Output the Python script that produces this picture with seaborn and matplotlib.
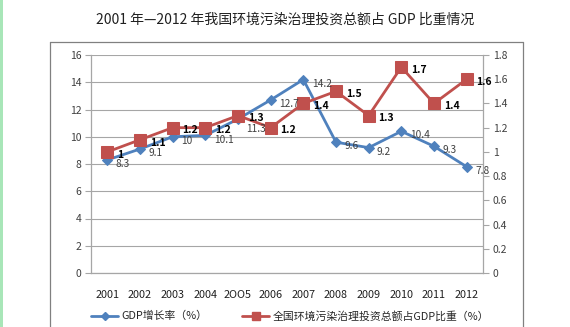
import matplotlib
matplotlib.use("Agg")
import matplotlib.pyplot as plt
import seaborn as sns
import pandas as pd
from matplotlib.patches import Rectangle
from matplotlib.lines import Line2D

years = ["2001", "2002", "2003", "2004", "2OO5", "2006", "2007", "2008", "2009", "2010", "2011", "2012"]
gdp_growth = [8.3, 9.1, 10, 10.1, 11.3, 12.7, 14.2, 9.6, 9.2, 10.4, 9.3, 7.8]
invest_share = [1, 1.1, 1.2, 1.2, 1.3, 1.2, 1.4, 1.5, 1.3, 1.7, 1.4, 1.6]
gdp_labels = ["8.3", "9.1", "10", "10.1", "11.3", "12.7", "14.2", "9.6", "9.2", "10.4", "9.3", "7.8"]
inv_labels = ["1", "1.1", "1.2", "1.2", "1.3", "1.2", "1.4", "1.5", "1.3", "1.7", "1.4", "1.6"]
left_ticks = [0, 2, 4, 6, 8, 10, 12, 14, 16]
right_ticks = [0, 0.2, 0.4, 0.6, 0.8, 1, 1.2, 1.4, 1.6, 1.8]
right_tick_labels = ["0", "0.2", "0.4", "0.6", "0.8", "1", "1.2", "1.4", "1.6", "1.8"]
title = "2001 年—2012 年我国环境污染治理投资总额占 GDP 比重情况"
legend_labels = ["GDP增长率（%）", "全国环境污染治理投资总额占GDP比重（%）"]

sns.set_style("white")
plt.rcParams["font.family"] = ["Noto Sans CJK SC", "DejaVu Sans"]

BLUE = "#4F81BD"
RED = "#C0504D"
GRID = "#A6A6A6"
TXT = "#404040"

df = pd.DataFrame({"x": list(range(len(years))), "gdp": gdp_growth, "inv": invest_share})

fig = plt.figure(figsize=(5.7, 3.27), dpi=100)
fig.patch.set_facecolor("white")
# light green strip at left edge
fig.patches.append(Rectangle((0, 0), 2.5 / 570, 1, transform=fig.transFigure,
                             facecolor="#A8E6B8", edgecolor="none", zorder=0))
# chart frame
fig.add_artist(Line2D([50 / 570, 50 / 570], [0, 1 - 42 / 327], transform=fig.transFigure, color="#808080", lw=0.9))
fig.add_artist(Line2D([523 / 570, 523 / 570], [0, 1 - 42 / 327], transform=fig.transFigure, color="#808080", lw=0.9))
fig.add_artist(Line2D([50 / 570, 523 / 570], [1 - 42 / 327, 1 - 42 / 327], transform=fig.transFigure, color="#808080", lw=0.9))

ax = fig.add_axes([91 / 570, 1 - 273 / 327, (483 - 91) / 570, (273 - 55) / 327])
ax2 = ax.twinx()

sns.lineplot(data=df, x="x", y="gdp", ax=ax, color=BLUE, lw=2, marker="D", markersize=5.5,
             markeredgecolor=BLUE, zorder=3)
sns.lineplot(data=df, x="x", y="inv", ax=ax2, color=RED, lw=2, marker="s", markersize=8,
             markeredgecolor=RED, zorder=3)

ax.set_xlim(-0.5, len(years) - 0.5)
ax.set_ylim(0, 16)
ax2.set_ylim(0, 1.8)
ax.set_yticks(left_ticks)
ax.set_yticklabels([str(t) for t in left_ticks])
ax2.set_yticks(right_ticks)
ax2.set_yticklabels(right_tick_labels)
ax.set_xticks(range(len(years)))
ax.set_xticklabels(years)
ax.set_xticks([i - 0.5 for i in range(len(years) + 1)], minor=True)
ax.tick_params(axis="x", which="major", length=0, pad=12, labelsize=7.8, labelcolor="#202020")
ax.tick_params(axis="x", which="minor", length=3, color=GRID, direction="inout")
ax.tick_params(axis="y", length=4, color=GRID, labelsize=7.5, labelcolor=TXT, pad=3)
ax2.tick_params(axis="y", length=4, color=GRID, labelsize=7.5, labelcolor=TXT, pad=3)
ax.set_xlabel("")
ax.set_ylabel("")
ax2.set_ylabel("")
ax.yaxis.grid(True, color=GRID, lw=0.8)
ax.set_axisbelow(True)
for a in (ax, ax2):
    a.spines["top"].set_visible(False)
    for s in ("left", "right", "bottom"):
        a.spines[s].set_color(GRID)
        a.spines[s].set_linewidth(0.9)
ax2.spines["left"].set_visible(False)
ax.spines["right"].set_visible(False)
ax2.spines["bottom"].set_visible(False)

# blue data labels drawn on the top axes (using left-axis data coordinates) so they stay visible
for i, (v, lab) in enumerate(zip(gdp_growth, gdp_labels)):
    dy = -7 if i == 4 else -3
    ax2.annotate(lab, (i, v), xycoords=ax.transData, xytext=(6, dy), textcoords="offset points",
                 ha="left", va="center", fontsize=7.3, color=TXT, zorder=5, annotation_clip=False)
for i, (v, lab) in enumerate(zip(invest_share, inv_labels)):
    ax2.annotate(lab, (i, v), xytext=(7, -2), textcoords="offset points", ha="left", va="center",
                 fontsize=7.5, color="black", fontweight="bold", zorder=6, annotation_clip=False)

fig.text(0.5, 1 - 20 / 327, title, ha="center", va="center", fontsize=10, color="#202020")

handles = [Line2D([], [], color=BLUE, lw=2, marker="D", markersize=4),
           Line2D([], [], color=RED, lw=2, marker="s", markersize=6)]
fig.legend(handles, legend_labels, loc="center", bbox_to_anchor=(290 / 570, 1 - 316 / 327),
           ncol=2, frameon=False, fontsize=7.8, handlelength=2.5, columnspacing=3.2, handletextpad=0.3)

fig.savefig("out.png", dpi=100)
